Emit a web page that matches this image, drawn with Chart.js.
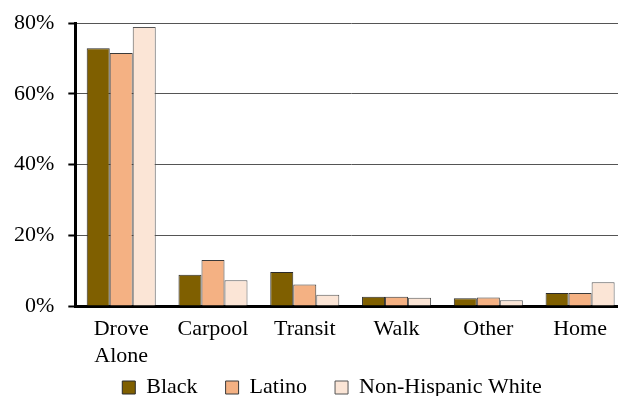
<!DOCTYPE html>
<html>
<head>
<meta charset="utf-8">
<title>Commute mode by race</title>
<script src="https://cdn.jsdelivr.net/npm/chart.js@4.4.1/dist/chart.umd.min.js"></script>
<style>
  html, body { margin: 0; padding: 0; background: #fff; overflow: hidden; }
  #wrap { width: 626px; height: 396px; }
</style>
</head>
<body>
<div id="wrap"><canvas id="modeChart"></canvas></div>
<script>
// data (percent of workers)
const categories = [['Drove', 'Alone'], 'Carpool', 'Transit', 'Walk', 'Other', 'Home'];
const seriesNames = ['Black', 'Latino', 'Non-Hispanic White'];
const blackValues = [72.9, 8.8, 9.6, 2.6, 2.2, 3.7];
const latinoValues = [71.5, 13.0, 6.1, 2.6, 2.4, 3.7];
const whiteValues = [78.9, 7.3, 3.2, 2.3, 1.6, 6.7];
const yTicks = [0, 20, 40, 60, 80];

const fillColors = ['#7f5f00', '#f4b183', '#fbe5d6'];
const edgeColors = ['#2b2b2b', '#3a3a3a', '#555555'];
const FONT = "'Liberation Serif', 'Times New Roman', serif";

// legend needs wide gaps between items but little height, so move it after layout
const legendMover = {
  id: 'legendMover',
  afterLayout(chart) {
    const lg = chart.legend;
    if (!lg) return;
    const dx = 19;
    lg.left += dx; lg.right += dx;
    lg.top = 348.5;
    lg.bottom = chart.height;
  }
};

document.addEventListener('DOMContentLoaded', function() {
  const ctx = document.getElementById('modeChart');
  const allValues = [blackValues, latinoValues, whiteValues];

  new Chart(ctx.getContext('2d'), {
    type: 'bar',
    data: {
      labels: categories,
      datasets: seriesNames.map((name, i) => ({
        label: name,
        data: allValues[i],
        backgroundColor: fillColors[i],
        borderColor: edgeColors[i],
        borderWidth: 1,
        barPercentage: 1.0,
        categoryPercentage: 0.752
      }))
    },
    options: {
      responsive: true,
      maintainAspectRatio: false,
      animation: false,
      layout: { padding: { top: 0, left: 0, right: 0, bottom: 0 } },
      plugins: {
        tooltip: { enabled: false },
        legend: {
          position: 'bottom',
          maxHeight: 17,
          labels: {
            color: '#000',
            font: { family: FONT, size: 22 },
            boxWidth: 13,
            boxHeight: 13,
            padding: 28
          }
        }
      },
      scales: {
        x: {
          grid: { display: false, drawTicks: false },
          border: { display: true, color: '#000', width: 3 },
          ticks: {
            color: '#000',
            font: { family: FONT, size: 22, lineHeight: 1.25 },
            padding: 9,
            maxRotation: 0,
            autoSkip: false
          }
        },
        y: {
          min: yTicks[0],
          max: yTicks[yTicks.length - 1],
          afterBuildTicks(axis) {
            axis.ticks = yTicks.map(v => ({ value: v }));
          },
          grid: {
            color: '#555',
            lineWidth: 1,
            tickColor: '#000',
            tickLength: 7,
            tickWidth: 2
          },
          border: { display: true, color: '#000', width: 3 },
          ticks: {
            color: '#000',
            font: { family: FONT, size: 22, lineHeight: 0.82 },
            padding: 14,
            callback: value => value + '%'
          }
        }
      }
    },
    plugins: [legendMover]
  });
});
</script>
</body>
</html>
